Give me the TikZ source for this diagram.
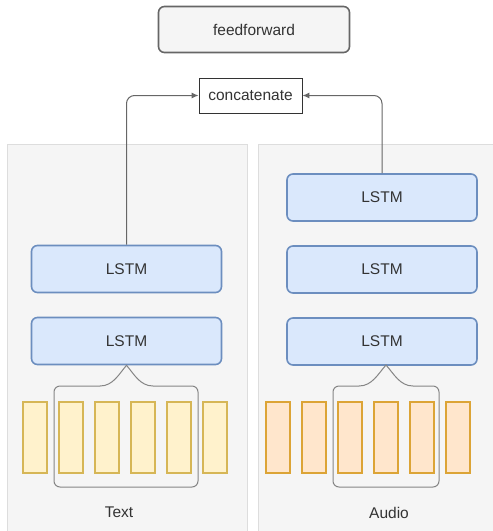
\documentclass[tikz,border=0pt]{standalone}
\usepackage{fontspec}
\setmainfont{Liberation Sans}
\usetikzlibrary{arrows.meta}

\definecolor{panelfill}{HTML}{F5F5F5}
\definecolor{paneldraw}{HTML}{DDDDDD}
\definecolor{lstmfill}{HTML}{DAE8FC}
\definecolor{lstmdraw}{HTML}{6C8EBF}
\definecolor{textfill}{HTML}{FFF2CC}
\definecolor{textdraw}{HTML}{D6B656}
\definecolor{audiofill}{HTML}{FFE6CC}
\definecolor{audiodraw}{HTML}{DCA436}
\definecolor{linegray}{HTML}{666666}
\definecolor{fontgray}{HTML}{333333}

\begin{document}
\begin{tikzpicture}[x=1pt,y=-1pt,
    font=\fontsize{15.5}{18}\selectfont, text=fontgray,
    panel/.style={draw=paneldraw,fill=panelfill,line width=0.8pt,inner sep=0pt,
        minimum width=240pt,minimum height=387pt},
    lstm/.style={draw=lstmdraw,fill=lstmfill,line width=1.6pt,rounded corners=6pt,
        inner sep=0pt,minimum width=190pt,minimum height=47pt},
    tok/.style={line width=1.2pt,inner sep=0pt,minimum width=24pt,minimum height=71pt},
    brace/.style={draw=linegray!80,line width=1pt},
    conn/.style={draw=linegray,line width=1pt,rounded corners=8pt,
        -{Latex[length=7pt,width=6pt]}}]
    \useasboundingbox (0,0) rectangle (493,531);

    \node[panel] (textpanel) at (127,337.5) {};
    \node[panel] (audiopanel) at (378,337.5) {};

    \node[draw=linegray,fill=panelfill,line width=1.6pt,rounded corners=6pt,inner sep=0pt,
        minimum width=191pt,minimum height=46pt] (ff) at (254,29.5) {feedforward};
    \node[draw=fontgray,fill=white,line width=0.9pt,inner sep=0pt,
        minimum width=103pt,minimum height=35pt] (cat) at (250.5,95.5) {concatenate};

    \node[lstm] (tl2) at (126.5,269) {LSTM};
    \node[lstm] (tl1) at (126.5,341) {LSTM};
    \node[lstm] (al3) at (382,197.5) {LSTM};
    \node[lstm] (al2) at (382,269.5) {LSTM};
    \node[lstm] (al1) at (382,341.5) {LSTM};

    \foreach \i in {1,...,6} {
        \node[tok,draw=textdraw,fill=textfill] (t\i) at ({35+36*(\i-1)},437.5) {};
        \node[tok,draw=audiodraw,fill=audiofill] (a\i) at ({278+36*(\i-1)},437.5) {};
    }

    % braces
    \draw[brace,rounded corners=6pt] (100,386) -- (54,386) -- (54,487) -- (198,487) -- (198,386) -- (153,386);
    \draw[brace] (100,386) .. controls (113,386) and (119,374) .. (tl1.south)
        .. controls (134,374) and (140,386) .. (153,386);
    \draw[brace,rounded corners=6pt] (359,386) -- (333,386) -- (333,487) -- (439,487) -- (439,386) -- (413,386);
    \draw[brace] (359,386) .. controls (372,386) and (378,374) .. (386,365)
        .. controls (394,374) and (400,386) .. (413,386);

    \node (textlabel) at (119,512) {Text};
    \node (audiolabel) at (389,513) {Audio};

    \draw[conn] (tl2.north) |- (cat.west);
    \draw[conn] (al3.north) |- (cat.east);
\end{tikzpicture}
\end{document}
